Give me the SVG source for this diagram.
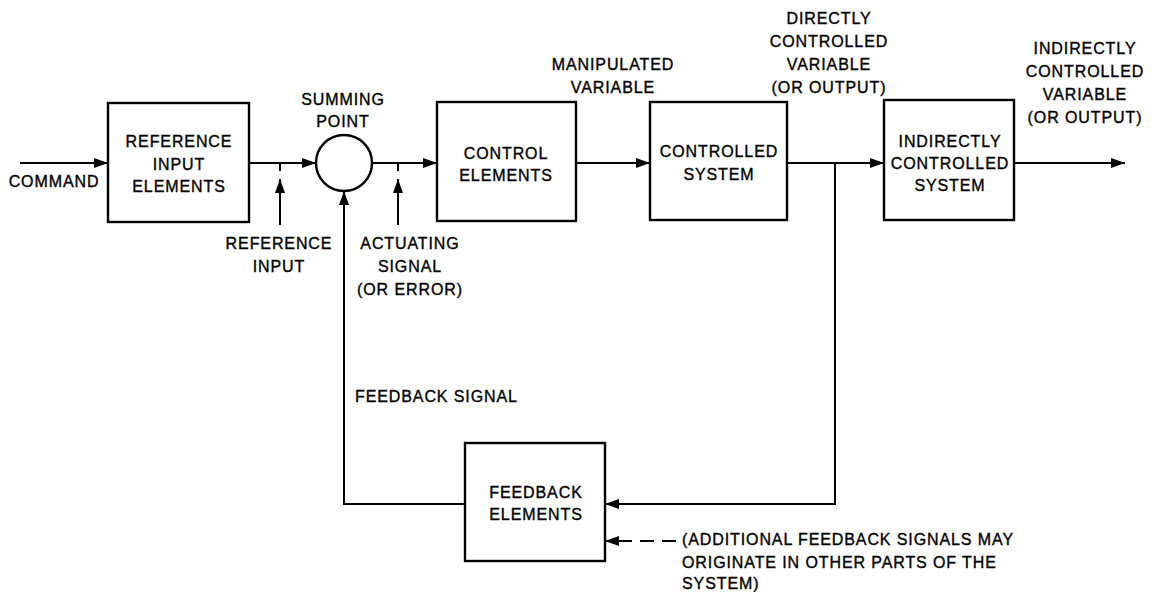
<svg xmlns="http://www.w3.org/2000/svg" width="1157" height="592" viewBox="0 0 1157 592">
  <style>
    .box { fill: #fff; stroke: #000; stroke-width: 2.4; }
    .wire { fill: none; stroke: #000; stroke-width: 2; }
    .dash { fill: none; stroke: #000; stroke-width: 2; stroke-dasharray: 14 8; }
    text { font-family: "Liberation Sans", Arial, sans-serif; font-size: 16px; letter-spacing: 0.9px; fill: #000; stroke: #000; stroke-width: 0.35; }
    .c { text-anchor: middle; }
  </style>
  <defs>
    <marker id="arrow" viewBox="0 0 14 10" refX="14" refY="5" markerWidth="14" markerHeight="10" markerUnits="userSpaceOnUse" orient="auto">
      <path d="M0,0 L14,5 L0,10 Z" fill="#000"/>
    </marker>
  </defs>
  <rect width="1157" height="592" fill="#fff"/>

  <!-- signal paths -->
  <g id="connectors">
    <line class="wire" x1="20" y1="163" x2="108" y2="163" marker-end="url(#arrow)"/>
    <line class="wire" x1="249" y1="163" x2="316" y2="163" marker-end="url(#arrow)"/>
    <line class="wire" x1="372" y1="163" x2="437" y2="163" marker-end="url(#arrow)"/>
    <line class="wire" x1="576" y1="163" x2="650" y2="163" marker-end="url(#arrow)"/>
    <line class="wire" x1="787" y1="163" x2="884" y2="163" marker-end="url(#arrow)"/>
    <line class="wire" x1="1014" y1="163" x2="1125" y2="163" marker-end="url(#arrow)"/>
    <!-- take-off to feedback path -->
    <polyline class="wire" points="835,163 835,504 605,504" marker-end="url(#arrow)"/>
    <!-- feedback signal into summing point -->
    <polyline class="wire" points="465,504 344,504 344,191" marker-end="url(#arrow)"/>
    <!-- other feedback sources -->
    <line class="dash" x1="676" y1="541" x2="620" y2="541"/>
    <line class="wire" x1="622" y1="541" x2="605" y2="541" marker-end="url(#arrow)"/>
    <!-- signal pointers -->
    <line class="wire" x1="280" y1="163" x2="280" y2="171"/>
    <line class="wire" x1="280" y1="225" x2="280" y2="179" marker-end="url(#arrow)"/>
    <line class="wire" x1="398" y1="163" x2="398" y2="171"/>
    <line class="wire" x1="398" y1="225" x2="398" y2="179" marker-end="url(#arrow)"/>
  </g>

  <g id="reference-input-elements">
    <rect class="box" x="108" y="103" width="141" height="119"/>
    <text class="c" x="179" y="147">REFERENCE</text>
    <text class="c" x="179" y="170">INPUT</text>
    <text class="c" x="179" y="192">ELEMENTS</text>
  </g>

  <g id="summing-point">
    <circle cx="344" cy="163" r="28" fill="#fff" stroke="#000" stroke-width="2.4"/>
    <text class="c" x="343" y="105">SUMMING</text>
    <text class="c" x="343" y="127">POINT</text>
  </g>

  <g id="control-elements">
    <rect class="box" x="437" y="102" width="139" height="119"/>
    <text class="c" x="506" y="159">CONTROL</text>
    <text class="c" x="506" y="181">ELEMENTS</text>
  </g>

  <g id="controlled-system">
    <rect class="box" x="650" y="102" width="137" height="118"/>
    <text class="c" x="719" y="157">CONTROLLED</text>
    <text class="c" x="719" y="180">SYSTEM</text>
  </g>

  <g id="indirectly-controlled-system">
    <rect class="box" x="884" y="100" width="130" height="120"/>
    <text class="c" x="950" y="147">INDIRECTLY</text>
    <text class="c" x="950" y="169">CONTROLLED</text>
    <text class="c" x="950" y="191">SYSTEM</text>
  </g>

  <g id="feedback-elements">
    <rect class="box" x="465" y="443" width="140" height="118"/>
    <text class="c" x="536" y="498">FEEDBACK</text>
    <text class="c" x="536" y="520">ELEMENTS</text>
  </g>

  <g id="labels">
    <text class="c" x="54" y="187">COMMAND</text>
    <text class="c" x="279" y="249">REFERENCE</text>
    <text class="c" x="279" y="272">INPUT</text>
    <text class="c" x="410" y="249">ACTUATING</text>
    <text class="c" x="410" y="272">SIGNAL</text>
    <text class="c" x="410" y="295">(OR ERROR)</text>
    <text class="c" x="613" y="70">MANIPULATED</text>
    <text class="c" x="613" y="93">VARIABLE</text>
    <text class="c" x="829" y="24">DIRECTLY</text>
    <text class="c" x="829" y="47">CONTROLLED</text>
    <text class="c" x="829" y="70">VARIABLE</text>
    <text class="c" x="829" y="93">(OR OUTPUT)</text>
    <text class="c" x="1085" y="54">INDIRECTLY</text>
    <text class="c" x="1085" y="77">CONTROLLED</text>
    <text class="c" x="1085" y="100">VARIABLE</text>
    <text class="c" x="1085" y="123">(OR OUTPUT)</text>
    <text x="355" y="402">FEEDBACK SIGNAL</text>
    <text x="682" y="545">(ADDITIONAL FEEDBACK SIGNALS MAY</text>
    <text x="682" y="568">ORIGINATE IN OTHER PARTS OF THE</text>
    <text x="682" y="589">SYSTEM)</text>
  </g>
</svg>
